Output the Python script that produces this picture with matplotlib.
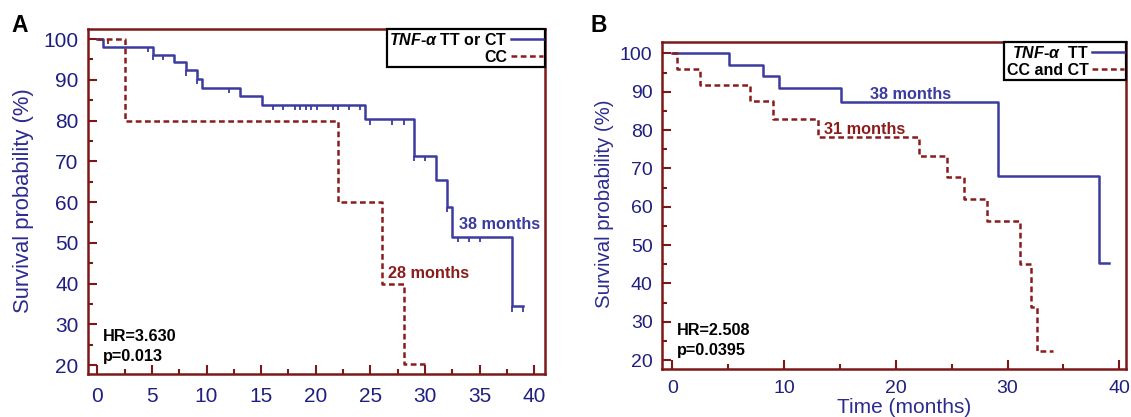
import matplotlib

matplotlib.use('Agg')
import matplotlib.pyplot as plt
import numpy as np
from matplotlib.lines import Line2D
from matplotlib.ticker import MultipleLocator

plt.rcParams['font.family'] = ['Liberation Sans', 'DejaVu Sans']
plt.rcParams['mathtext.fontset'] = 'custom'
plt.rcParams['mathtext.it'] = 'Liberation Sans:italic:bold'
plt.rcParams['mathtext.rm'] = 'Liberation Sans:bold'
plt.rcParams['mathtext.bf'] = 'Liberation Sans:bold'

# Panel A: TNF-a TT or CT vs CC (step times, survival % after each step)
a_tt_times = [0, 0.55, 5.07, 7.05, 8.1, 9.1, 9.6, 13.1, 15.1, 24.5, 29.0, 31.0, 32.05, 32.5, 38.0, 39.0]
a_tt_surv = [100, 98.1, 96.2, 94.3, 92.3, 90.3, 88.1, 86.0, 83.9, 80.3, 71.4, 65.5, 58.8, 51.5, 34.4, 34.4]
a_tt_censored = [4.6, 5.07, 6.0, 8.1, 9.1, 12.05, 16.05, 17.0, 18.1, 18.55, 19.07, 19.56, 20.08,
                 21.6, 22.0, 23.07, 24.05, 25.0, 27.0, 28.1, 29.0, 30.0, 32.05, 33.05, 34.0, 35.0,
                 38.0, 39.0]
a_cc_times = [0, 2.56, 22.0, 26.03, 28.07, 30.0]
a_cc_surv = [100, 80, 60, 40, 20.2, 20.2]
a_cc_censored = [1.0]

# Panel B: TNF-a TT vs CC and CT
b_tt_times = [0, 5.05, 8.08, 9.52, 15.1, 29.1, 38.2, 39.1]
b_tt_surv = [100, 97.1, 94.0, 91.0, 87.3, 68.0, 45.4, 45.4]
b_cc_times = [0, 0.45, 2.48, 6.98, 9.04, 13.0, 22.1, 24.6, 26.06, 28.15, 31.1, 32.1, 32.66, 34.1]
b_cc_surv = [100, 95.9, 91.7, 87.5, 83.0, 78.3, 73.3, 67.8, 62.1, 56.4, 45.1, 33.9, 22.5, 22.5]

BLUE = '#3b3ba0'
RED = '#8b1c1c'
SPINE = '#7d1818'
TICKC = '#1f1f80'
LABELC = '#2c2c90'
DASH = (0, (2.3, 1.4))
LW = 1.8


def level_at(times, surv, t):
    idx = np.searchsorted(times, t, side='right') - 1
    return np.asarray(surv)[idx]


def style_axes(ax, xmajor, xminor, xlim, ylim, fs, xpad):
    ax.set_xlim(*xlim)
    ax.set_ylim(*ylim)
    ax.xaxis.set_major_locator(MultipleLocator(xmajor))
    ax.xaxis.set_minor_locator(MultipleLocator(xminor))
    ax.yaxis.set_major_locator(MultipleLocator(10))
    ax.yaxis.set_minor_locator(MultipleLocator(5))
    for sp in ax.spines.values():
        sp.set_color(SPINE)
        sp.set_linewidth(1.8)
    ax.tick_params(which='major', direction='in', length=6.5, width=1.5, color=SPINE,
                   labelcolor=TICKC, labelsize=fs)
    ax.tick_params(which='minor', direction='in', length=3.5, width=1.5, color=SPINE)
    ax.tick_params(axis='x', pad=xpad)
    ax.tick_params(axis='y', pad=7)


def add_legend(ax, labels):
    handles = [Line2D([], [], color=BLUE, lw=LW, label=labels[0]),
               Line2D([], [], color=RED, lw=LW, ls=DASH, label=labels[1])]
    leg = ax.legend(handles=handles, loc='upper right', borderaxespad=0, markerfirst=False,
                    frameon=True, fancybox=False, edgecolor='black', framealpha=1,
                    prop={'weight': 'bold', 'size': 11.5}, handlelength=2.0,
                    handletextpad=0.2, borderpad=0.15, labelspacing=0.12)
    leg.get_frame().set_linewidth(1.6)


fig = plt.figure(figsize=(11.31, 4.17), dpi=100)

# ---- Panel A ----
ax = fig.add_axes([0.0781, 0.1031, 0.4038, 0.8266])
ax.plot(a_tt_times, a_tt_surv, drawstyle='steps-post', color=BLUE, lw=LW)
ax.plot(a_cc_times, a_cc_surv, drawstyle='steps-post', color=RED, lw=LW, ls=DASH)
lv = level_at(a_tt_times, a_tt_surv, a_tt_censored)
ax.vlines(a_tt_censored, lv - 1.3, lv, color=BLUE, lw=1.3)
lv = level_at(a_cc_times, a_cc_surv, a_cc_censored)
ax.vlines(a_cc_censored, lv - 1.3, lv, color=RED, lw=1.3)
style_axes(ax, 5, 2.5, (-0.82, 40.98), (17.8, 102.4), 15, 9)
ax.set_ylabel('Survival probability (%)', color=LABELC, fontsize=15.8)
ax.yaxis.set_label_coords(-0.12, 0.5025)
add_legend(ax, [r'$TNF$-$\alpha$ TT or CT', 'CC'])
ax.text(33.1, 54.4, '38 months', color=BLUE, fontweight='bold', fontsize=11.7, va='center')
ax.text(26.6, 42.5, '28 months', color=RED, fontweight='bold', fontsize=11.7, va='center')
ax.text(0.55, 26.9, 'HR=3.630', fontweight='bold', fontsize=11.7, va='center')
ax.text(0.55, 22.0, 'p=0.013', fontweight='bold', fontsize=11.7, va='center')
fig.text(19.5 / 1131, 1 - 25 / 417, 'A', ha='center', va='center', fontsize=16.5, fontweight='bold')

# ---- Panel B ----
ax = fig.add_axes([0.5856, 0.1144, 0.41, 0.7842])
ax.plot(b_tt_times, b_tt_surv, drawstyle='steps-post', color=BLUE, lw=LW)
ax.plot(b_cc_times, b_cc_surv, drawstyle='steps-post', color=RED, lw=LW, ls=DASH)
style_axes(ax, 10, 5, (-0.9, 40.6), (17.6, 102.9), 14, 7.5)
ax.set_ylabel('Survival probability (%)', color=LABELC, fontsize=14.7)
ax.yaxis.set_label_coords(-0.105, 0.5055)
ax.set_xlabel('Time (months)', color=LABELC, fontsize=15)
ax.xaxis.set_label_coords(0.5204, -0.087)
add_legend(ax, [r'$TNF$-$\alpha$  TT', 'CC and CT'])
ax.text(17.7, 89.3, '38 months', color=BLUE, fontweight='bold', fontsize=11.7, va='center')
ax.text(13.6, 80.2, '31 months', color=RED, fontweight='bold', fontsize=11.7, va='center')
ax.text(0.39, 27.8, 'HR=2.508', fontweight='bold', fontsize=11.7, va='center')
ax.text(0.39, 22.6, 'p=0.0395', fontweight='bold', fontsize=11.7, va='center')
fig.text(598.6 / 1131, 1 - 25 / 417, 'B', ha='center', va='center', fontsize=16.5, fontweight='bold')

fig.savefig('out.png', dpi=100)
